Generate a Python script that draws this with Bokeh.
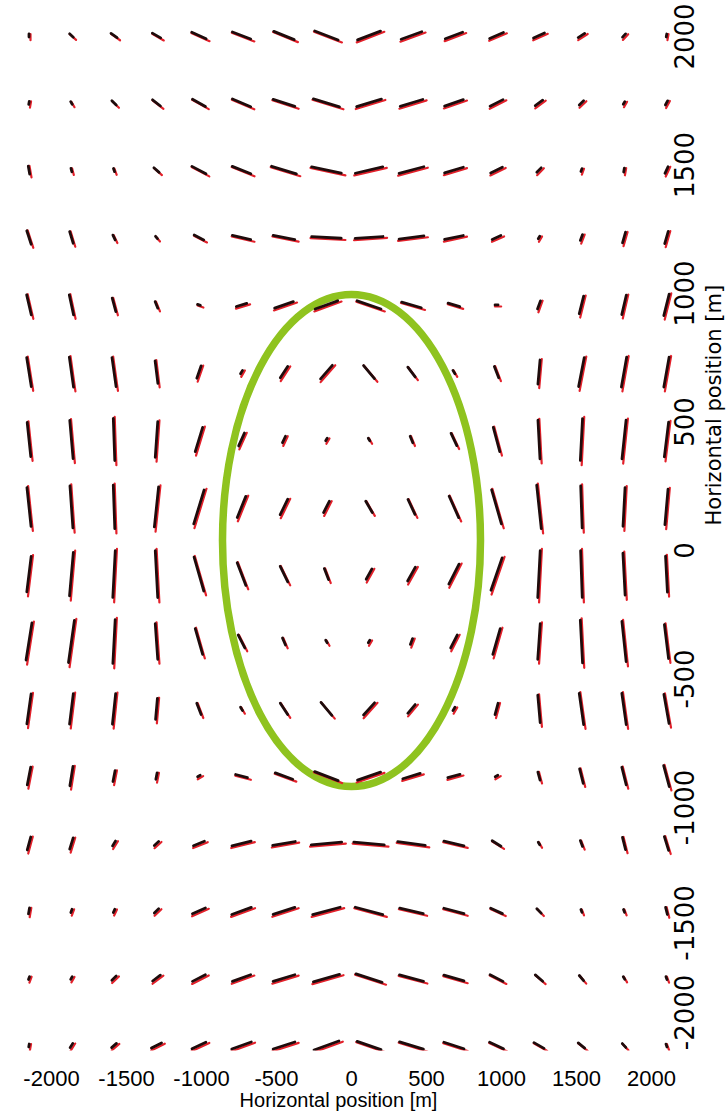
import math
from bokeh.plotting import figure
from bokeh.models import FixedTicker, ColumnDataSource
from bokeh.embed import file_html
from bokeh.resources import INLINE

# ---------------- data ----------------
x_positions = [-2150, -1867, -1583, -1300, -1017, -733, -450, -167,
               117, 400, 683, 967, 1250, 1533, 1817, 2100]
# rows listed from top (north) to bottom
y_positions = [2000, 1733, 1467, 1200, 933, 667, 400, 133,
               -133, -400, -667, -933, -1200, -1467, -1733, -2000]

# stick orientation (degrees, counter-clockwise from the horizontal axis)
angle_deg = [
    [90, -42, -35, -30, -24, -21, -22, -21, 21, 20, 20.5, 23, 24, 33, 47, 80],
    [80, -60, -44, -38, -29, -23, -18, -17, 17, 17, 19, 27, 36, 44, 60, 62],
    [-80, -75, -70, -41, -28, -22, -17, -12, 13, 15, 17, 26, 46, 70, 80, 65],
    [-72, -73, -65, -50, -27, -13, -11, -3, 4, 7, 12, 24, 60, 69, 74, 74],
    [-77, -78, -75, -68, -20, 17, 19, 20, -19, -16, -17, 0, 70, 76, 77, 76],
    [-81, -82, -82, -83, 71, 60, 57, 49, -50, -53, -60, -69, 85, 79, 80, 80],
    [-84, -85, -88, 86, 73, 66, 65, 60, -60, -68, -65, -75, -87, 87, 84, 83],
    [-84, -86, -88, 84, 73, 68, 64, 63, -60, -65, -66, -74, -84, -88, 87, 85],
    [83, 85, 87, -87, -74, -69, -64, -69, 61, 61, 63, 71, 87, -88, -87, -87],
    [81, 82, 87, -86, -74, -63, -67, -60, 60, 69, 63, 74, 86, -87, -84, -83],
    [82, 83, 84, 85, -69, -60, -57, -50, 48, 50, 60, 75, -85, -82, -82, -80],
    [79, 81, 79, 79, 30, -15, -20, -21, 19, 17, 15, 30, -75, -76, -76, -75],
    [75, 73, 58, 42, 22, 14, 10, 5, -5, -8, -13, -32, -60, -69, -76, -73],
    [80, 70, 65, 44, 24, 20, 18, 15, -15, -13, -15, -25, -46, -70, -70, -76],
    [70, 60, 44, 37, 27, 20, 17, 16, -18, -15, -16, -27, -41, -50, -60, -70],
    [80, 58, 41, 27, 25, 20, 18, 20, -19, -17, -18, -25, -30, -39, -48, -70],
]

# stick magnitude (relative units)
magnitude = [
    [3, 5, 7.4, 9.6, 15.7, 19.6, 22, 25, 24.6, 22, 18.5, 15, 12, 7.7, 4.4, 3],
    [3, 3, 6, 10, 14.8, 19.8, 22.8, 27.3, 25.9, 23.6, 19.8, 14.5, 9.2, 6, 3, 4.7],
    [8, 3.5, 3.4, 6.9, 15.8, 20, 25.9, 30.3, 28.1, 25.6, 19.6, 13, 6.2, 3, 4, 7.2],
    [14.2, 12.1, 5.3, 3, 10.7, 18.8, 22, 29.6, 27.9, 25, 19.1, 9.5, 3, 6.2, 11, 12.8],
    [20.6, 20.5, 14, 7, 3, 10.9, 19.8, 24, 25.2, 20.4, 12.2, 3, 8.6, 18.2, 19.9, 22.2],
    [29.3, 30.3, 29.3, 22.7, 13, 4, 13.5, 17.9, 16.9, 12.2, 4, 12.1, 24.2, 29.6, 30.5, 30.5],
    [34.2, 38.2, 42, 35.6, 25.3, 14.1, 7.1, 3, 3, 7, 13.5, 25, 38.7, 42, 39, 35],
    [39, 42, 43.5, 40.3, 35.4, 22.7, 17.2, 12.6, 13, 16.4, 23.4, 35.3, 43.7, 42, 38.8, 35.6],
    [35.8, 43.7, 46.8, 46.9, 35.2, 24.2, 17.2, 11.8, 11.8, 15.9, 22.4, 34.2, 46.9, 46.8, 42, 36],
    [37.5, 42.4, 44, 35.6, 26.8, 14.4, 7.7, 3, 3, 6.2, 14.4, 26.8, 35.6, 43, 40.5, 34.2],
    [30.3, 30.8, 30.8, 21, 12.1, 4, 13.5, 16.9, 16.4, 11.4, 4, 11.7, 27.5, 31.6, 31.6, 29.5],
    [18, 19.6, 11.2, 6.6, 3, 12.2, 18.5, 25.1, 24.4, 18.2, 12.6, 3, 8.3, 14.9, 18.2, 21.7],
    [13.4, 11.8, 5.7, 5.8, 11.8, 19.7, 22.9, 30.5, 30.5, 27.7, 20.5, 10.3, 3, 6.2, 12.7, 14.5],
    [6, 3.5, 3.5, 6, 14.2, 20.8, 22.8, 28.4, 28.4, 24.1, 20.7, 12.9, 6.2, 3, 3, 7.3],
    [3, 3, 6, 9.7, 14.5, 19.4, 22.7, 27.2, 27.4, 24.8, 20.8, 14.5, 9.8, 6.7, 3, 3],
    [3, 5, 6.4, 11.3, 15.3, 20.8, 22.8, 26.4, 25.2, 24.9, 21, 15.3, 11.6, 8.3, 5.2, 3],
]

ellipse_center_x = 0
ellipse_center_y = 0
ellipse_semi_x = 860
ellipse_semi_y = 975

tick_values = [-2000, -1500, -1000, -500, 0, 500, 1000, 1500, 2000]
tick_labels = ["-2000", "-1500", "-1000", "-500", "0", "500", "1000", "1500", "2000"]
x_title = "Horizontal position [m]"
y_title = "Horizontal position [m]"

# ---------------- layout / style ----------------
FW, FH = 676, 1050
X_RANGE = (-2340.0, 2166.7)
Y_RANGE = (-2019.8, 2138.6)
STICK_SCALE = 1.0          # screen pixels per magnitude unit
BLACK = "#1e0c0c"
RED = "#e3202a"
GREEN = "#8fc31f"
Y_LABEL_SIZE = 26          # px, DejaVu Sans
Y_LABEL_PAGE0 = 550        # screen row where the right-hand "0" label is centred
Y_LABEL_PX_PER_M = 0.257   # spacing of the right-hand labels
Y_LABEL_GAP = 14           # minimum px gap between neighbouring right-hand labels

kx = FW / (X_RANGE[1] - X_RANGE[0])   # px per metre
ky = FH / (Y_RANGE[1] - Y_RANGE[0])

p = figure(frame_width=FW, frame_height=FH, x_range=X_RANGE, y_range=Y_RANGE,
           output_backend="svg", toolbar_location=None, y_axis_location="right",
           min_border=0)
p.outline_line_color = None
p.xgrid.visible = False
p.ygrid.visible = False
p.background_fill_color = "white"
p.border_fill_color = "white"

# ellipse
p.ellipse(x=[ellipse_center_x], y=[ellipse_center_y],
          width=[2 * ellipse_semi_x], height=[2 * ellipse_semi_y],
          fill_color=None, line_color=GREEN, line_width=7.5)

# sticks
bx0, by0, bx1, by1 = [], [], [], []
rx0, ry0, rx1, ry1 = [], [], [], []
for r, yv in enumerate(y_positions):
    for c, xv in enumerate(x_positions):
        th = math.radians(angle_deg[r][c])
        L = magnitude[r][c] * STICK_SCALE
        hx = 0.5 * L * math.cos(th) / kx
        hy = 0.5 * L * math.sin(th) / ky
        bx0.append(xv - hx); by0.append(yv - hy)
        bx1.append(xv + hx); by1.append(yv + hy)
        Lr = L * 1.08 + 3
        hxr = 0.5 * Lr * math.cos(th) / kx
        hyr = 0.5 * Lr * math.sin(th) / ky
        ox = 1.5 / kx
        oy = -1.6 / ky
        rx0.append(xv + ox - hxr); ry0.append(yv + oy - hyr)
        rx1.append(xv + ox + hxr); ry1.append(yv + oy + hyr)

red_src = ColumnDataSource(dict(x0=rx0, y0=ry0, x1=rx1, y1=ry1))
blk_src = ColumnDataSource(dict(x0=bx0, y0=by0, x1=bx1, y1=by1))
p.segment(x0="x0", y0="y0", x1="x1", y1="y1", source=red_src,
          line_color=RED, line_width=2.2, line_cap="round")
p.segment(x0="x0", y0="y0", x1="x1", y1="y1", source=blk_src,
          line_color=BLACK, line_width=2.8, line_cap="round")

overrides = {v: s for v, s in zip(tick_values, tick_labels)}

xa = p.xaxis[0]
xa.ticker = FixedTicker(ticks=tick_values)
xa.major_label_overrides = overrides
xa.axis_line_color = None
xa.major_tick_line_color = None
xa.minor_tick_line_color = None
xa.major_tick_out = 0
xa.major_tick_in = 0
xa.major_label_standoff = 20
xa.major_label_text_font = "Liberation Sans"
xa.major_label_text_font_size = "22px"
xa.major_label_text_color = "black"
xa.axis_label = x_title
xa.axis_label_standoff = 0
xa.axis_label_text_font = "Liberation Sans"
xa.axis_label_text_font_size = "20px"
xa.axis_label_text_font_style = "normal"
xa.axis_label_text_color = "black"

# Right axis: rotated labels are anchored at their start, so place each
# label's anchor half a label length below the spot where it is centred.
def label_len_px(s):
    return Y_LABEL_SIZE * sum(0.361 if ch == "-" else 0.636 for ch in s)

max_anchor_page = (Y_RANGE[1] - (Y_RANGE[0] + 1.0)) * ky
y_tick_pos = []
y_overrides = {}
prev_top = None
for v, s in zip(tick_values, tick_labels):      # ascending values
    Lpx = label_len_px(s)
    centre_page = Y_LABEL_PAGE0 - Y_LABEL_PX_PER_M * v
    anchor_page = min(centre_page + Lpx / 2, max_anchor_page)
    if prev_top is not None:
        anchor_page = min(anchor_page, prev_top - Y_LABEL_GAP)
    prev_top = anchor_page - Lpx
    pos = round(Y_RANGE[1] - anchor_page / ky, 1)
    y_tick_pos.append(pos)
    y_overrides[pos] = s

ya = p.yaxis[0]
ya.ticker = FixedTicker(ticks=y_tick_pos)
ya.major_label_overrides = y_overrides
ya.axis_line_color = None
ya.major_tick_line_color = None
ya.minor_tick_line_color = None
ya.major_tick_out = 0
ya.major_tick_in = 0
ya.major_label_orientation = math.pi / 2
ya.major_label_standoff = 8
ya.major_label_text_font = "DejaVu Sans"
ya.major_label_text_font_size = "%dpx" % Y_LABEL_SIZE
ya.major_label_text_color = "black"
ya.axis_label = y_title
ya.axis_label_standoff = 6
ya.axis_label_text_font = "DejaVu Sans"
ya.axis_label_text_font_size = "21px"
ya.axis_label_text_font_style = "normal"
ya.axis_label_text_color = "black"
try:
    ya.axis_label_orientation = math.pi / 2
except Exception:
    pass

open("out.html", "w").write(file_html(p, INLINE))
